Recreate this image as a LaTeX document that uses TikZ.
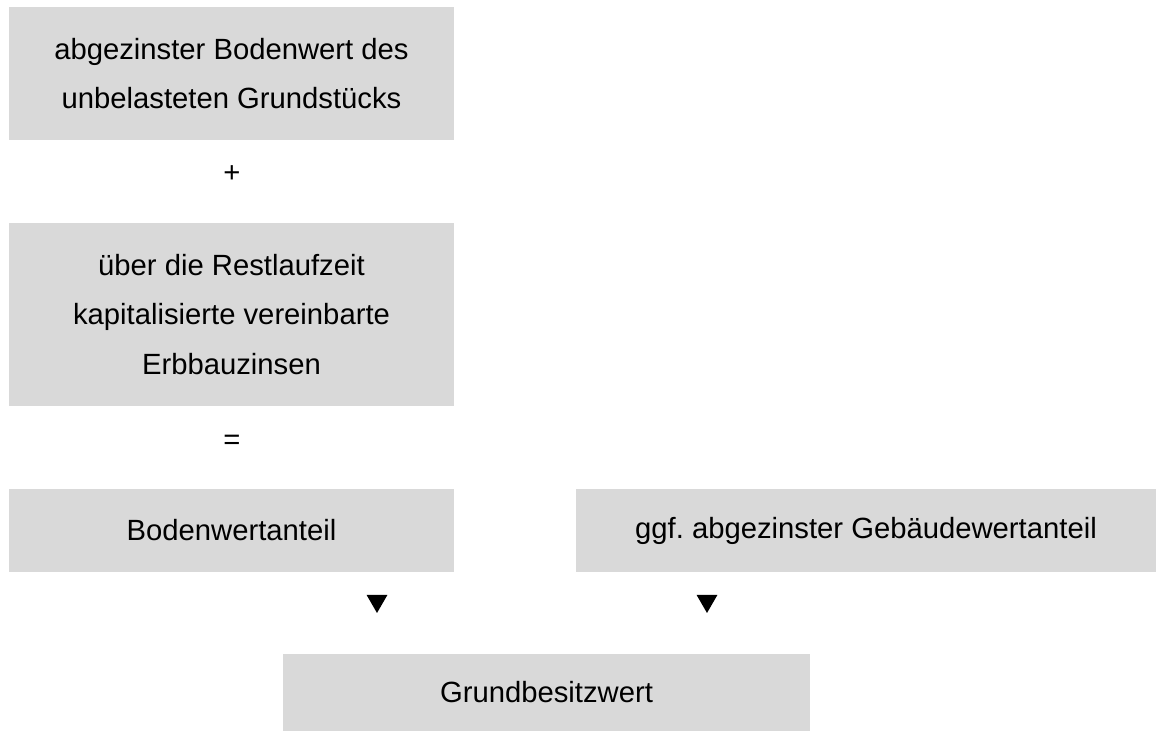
\documentclass[tikz,border=0pt]{standalone}
\usepackage{fontspec}
\setmainfont{Liberation Sans}
\usetikzlibrary{shapes.geometric}
\definecolor{boxgray}{HTML}{D9D9D9}
\frenchspacing

\begin{document}
\begin{tikzpicture}[
                       value node/.style={fill=boxgray,inner sep=0pt,align=center,
                                          font=\fontsize{20.8}{34.9}\selectfont},
                       sign node/.style={inner sep=0pt,font=\fontsize{20.8}{34.9}\selectfont},
                       tip node/.style={regular polygon,regular polygon sides=3,
                                        shape border rotate=180,fill=black,
                                        inner sep=0pt,minimum size=0.6cm}
                      ]
   \useasboundingbox (0,0) rectangle (28.9,18.275);

   \node[value node,minimum width=11.125cm,minimum height=3.325cm] (boden) at (5.7875,16.4375)
      {abgezinster Bodenwert des\\unbelasteten Grundstücks};
   \node[sign node] (plus) at (5.8,13.925) {+};
   \node[value node,minimum width=11.125cm,minimum height=4.575cm] (zins) at (5.7875,10.4125)
      {über die Restlaufzeit\\kapitalisierte vereinbarte\\Erbbauzinsen};
   \node[sign node] (gleich) at (5.8,7.225) {=};
   \node[value node,minimum width=11.125cm,minimum height=2.075cm] (anteil) at (5.7875,5.0125)
      {Bodenwertanteil};
   \node[value node,minimum width=14.5cm,minimum height=2.075cm] (gebaeude) at (21.65,5.0125)
      {ggf. abgezinster Gebäudewertanteil};
   \node[tip node] (tipa) at (9.425,3.25) {};
   \node[tip node] (tipb) at (17.675,3.25) {};
   \node[value node,minimum width=13.175cm,minimum height=1.925cm] (wert) at (13.6625,0.9625)
      {Grundbesitzwert};
  \end{tikzpicture}
\end{document}
